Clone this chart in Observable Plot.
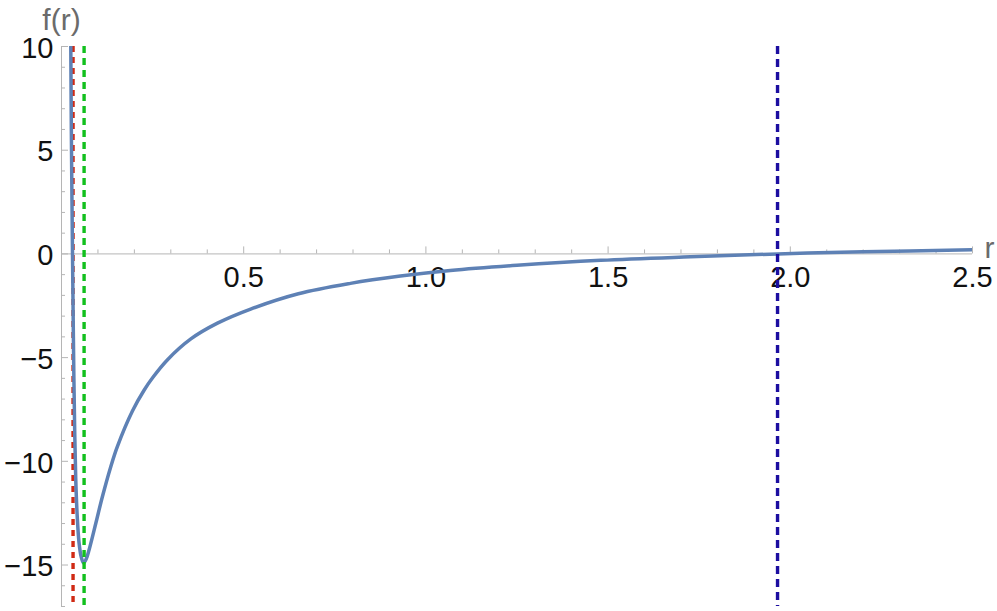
<!DOCTYPE html>
<html>
<head>
<meta charset="utf-8">
<script src="https://cdn.jsdelivr.net/npm/d3@7"></script>
<script src="https://cdn.jsdelivr.net/npm/@observablehq/plot@0.6"></script>
<style>
  html, body { margin: 0; padding: 0; background: #fff; }
</style>
</head>
<body>
<div id="chart"></div>
<script>
// Curve samples
const rValues = [0.0255, 0.0270, 0.0285, 0.0302, 0.0320, 0.0340, 0.0362, 0.0390, 0.0430, 0.0480,
  0.0540, 0.0605, 0.0680, 0.0760, 0.0940, 0.1120, 0.1350, 0.1530, 0.1950, 0.2270,
  0.2500, 0.2910, 0.3550, 0.4280, 0.5190, 0.6500, 0.7930, 0.9300, 1.0670, 1.2500,
  1.4800, 1.7260, 1.9650, 2.2000, 2.5000];
const fValues = [10, 6, 3, 0, -3, -6, -8.5, -10.8, -12.6, -13.9,
  -14.6, -14.9, -14.7, -14.25, -13.0, -11.72, -10.27, -9.3, -7.56, -6.56,
  -5.97, -5.1, -4.1, -3.34, -2.66, -1.92, -1.42, -1.07, -0.8, -0.55,
  -0.31, -0.14, 0.0, 0.10, 0.20];

// Vertical dashed marker lines
const markerR = [0.0317, 0.062, 1.965];
const markerColors = ["#d02a14", "#12c01e", "#1c0ea0"];
const markerDash = ["6,5", "7,5", "8,5"];

// Ticks
const xTickLabels = [0.5, 1.0, 1.5, 2.0, 2.5];
const yTickLabels = [-15, -10, -5, 0, 5, 10];
const xMinor = d3.range(1, 26).map(i => i / 10).filter(v => !xTickLabels.some(t => Math.abs(t - v) < 1e-9));
const yMinor = d3.range(-17, 11).filter(v => v % 5 !== 0);

const curve = rValues.map((r, i) => ({r, f: fValues[i]}));

const axisColor = "#b5b5b5";
const font = "'Liberation Sans', Arial, sans-serif";

function markerRule(i) {
  return Plot.ruleX([markerR[i]], {x: d => d, stroke: markerColors[i], strokeDasharray: markerDash[i], strokeWidth: 3.4});
}

const plot = Plot.plot({
  width: 997,
  height: 611,
  marginLeft: 61,
  marginRight: 25,
  marginTop: 46,
  marginBottom: 5,
  x: {domain: [0, 2.5], axis: null},
  y: {domain: [-17, 10], axis: null},
  style: {background: "#fff", fontFamily: font},
  marks: [
    // axes lines
    Plot.ruleY([0], {stroke: axisColor, strokeWidth: 1}),
    Plot.ruleX([0], {stroke: axisColor, strokeWidth: 1}),
    // x ticks (pointing up)
    Plot.ruleX(xMinor, {x: d => d, y1: 0, y2: 0, insetBottom: 4, stroke: axisColor}),
    Plot.ruleX(xTickLabels, {x: d => d, y1: 0, y2: 0, insetBottom: 7, stroke: axisColor}),
    // y ticks (pointing right)
    Plot.ruleY(yMinor, {y: d => d, x1: 0, x2: 0, insetRight: -4, stroke: axisColor}),
    Plot.ruleY(yTickLabels, {y: d => d, x1: 0, x2: 0, insetRight: -7, stroke: axisColor}),
    // tick labels
    Plot.text(xTickLabels, {x: d => d, y: 0, dy: 24, text: d => d3.format(".1f")(d),
      fontSize: 29, fill: "#111", fontFamily: font}),
    Plot.text(yTickLabels, {x: 0, y: d => d, dx: -8, dy: 2, text: d => d3.format("")(d).replace("-", "\u2212"),
      textAnchor: "end", fontSize: 29, fill: "#111", fontFamily: font}),
    // red marker under the curve
    markerRule(0),
    // curve
    Plot.line(curve, {x: "r", y: "f", stroke: "#5e81b5", strokeWidth: 3.5, curve: "catmull-rom", clip: true}),
    // other markers
    markerRule(1),
    markerRule(2),
    // axis labels
    Plot.text(["f(r)"], {x: 0, y: 10, dy: -26, text: d => d, fontSize: 30, fill: "#6b6b6b", fontFamily: font}),
    Plot.text(["r"], {x: 2.5, y: 0, dx: 12, dy: -6, text: d => d, textAnchor: "start", fontSize: 30, fill: "#6b6b6b", fontFamily: font})
  ]
});
document.getElementById("chart").appendChild(plot);
</script>
</body>
</html>
